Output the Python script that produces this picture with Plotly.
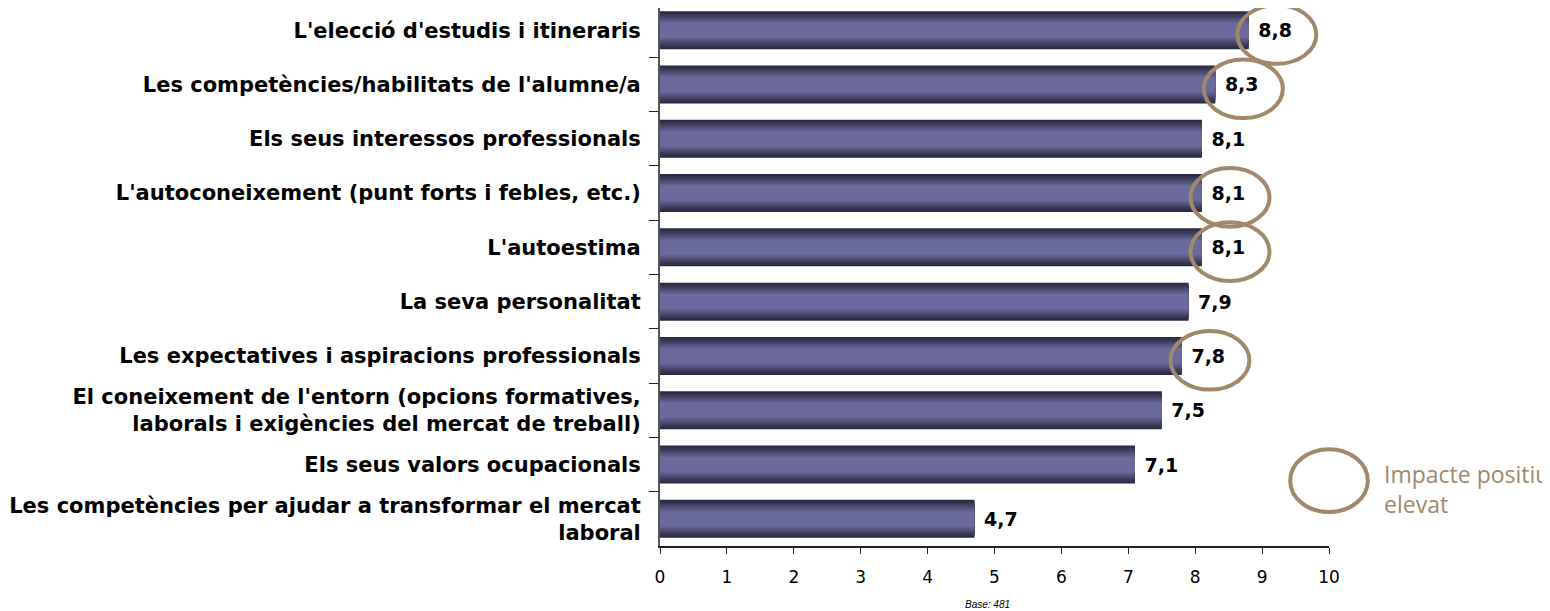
import plotly.graph_objects as go

categories = [
    "L'elecció d'estudis i itineraris",
    "Les competències/habilitats de l'alumne/a",
    "Els seus interessos professionals",
    "L'autoconeixement (punt forts i febles, etc.)",
    "L'autoestima",
    "La seva personalitat",
    "Les expectatives i aspiracions professionals",
    "El coneixement de l'entorn (opcions formatives,<br>laborals i exigències del mercat de treball)",
    "Els seus valors ocupacionals",
    "Les competències per ajudar a transformar el mercat<br>laboral",
]
values = [8.8, 8.3, 8.1, 8.1, 8.1, 7.9, 7.8, 7.5, 7.1, 4.7]
high_impact = [True, True, False, True, True, False, True, False, False, False]
x_ticks = list(range(0, 11))
legend_text = "Impacte positiu<br>elevat"
base_text = "Base: 481"

circle_color = "#a0896a"

# gradient layers (outer dark -> inner light)
dark = (42, 41, 66)
light = (106, 106, 156)
n_layers = 9
fig = go.Figure()
for i in range(n_layers):
    t = i / (n_layers - 1)
    c = tuple(round(dark[k] + (light[k] - dark[k]) * (t ** 1.1)) for k in range(3))
    w = 0.70 - i * 0.052
    last = i == 0
    fig.add_trace(go.Bar(
        y=categories, x=values, orientation="h", width=w,
        marker=dict(color="rgb(%d,%d,%d)" % c, line=dict(width=0)),
        texttemplate="\u00a0%{x:.1f}" if last else None,
        textposition="outside" if last else "none",
        textfont=dict(family="DejaVu Sans", size=19, color="black", weight="bold"),
        cliponaxis=False, hoverinfo="skip", showlegend=False,
    ))

shapes = []
for idx, (v, h) in enumerate(zip(values, high_impact)):
    if h:
        cx = v + 0.42
        cy = idx + 0.08
        shapes.append(dict(type="circle", xref="x", yref="y",
                           x0=cx - 0.59, x1=cx + 0.59, y0=cy - 0.54, y1=cy + 0.54,
                           line=dict(color=circle_color, width=4), layer="above"))
# legend ellipse
shapes.append(dict(type="circle", xref="paper", yref="paper",
                   x0=0.942, x1=1.058, y0=0.063, y1=0.180,
                   line=dict(color=circle_color, width=4)))

annotations = [
    dict(text=legend_text, xref="paper", yref="paper", x=1.079, y=0.106,
         xanchor="left", yanchor="middle", align="left", showarrow=False,
         font=dict(family="Open Sans", size=23, color=circle_color)),
    dict(text="<i>" + base_text + "</i>", xref="paper", yref="paper", x=0.489, y=-0.108,
         xanchor="center", yanchor="middle", showarrow=False,
         font=dict(family="Liberation Sans Narrow, Liberation Sans", size=10, color="black")),
]

n = len(categories)
fig.update_layout(
    width=1542, height=603,
    margin=dict(l=652, r=221, t=0, b=65, autoexpand=False),
    barmode="overlay",
    separators=",.",
    plot_bgcolor="white", paper_bgcolor="white",
    shapes=shapes, annotations=annotations,
    xaxis=dict(range=[0, 10], tickvals=x_ticks, showgrid=False, zeroline=False,
               automargin=False,
               showline=True, linecolor="#222", linewidth=1.5,
               ticks="outside", ticklen=6, tickcolor="#222", ticklabelstandoff=9,
               tickfont=dict(family="DejaVu Sans", size=17, color="black")),
    yaxis=dict(range=[n - 0.5, -0.408], showgrid=False, zeroline=False,
               automargin=False,
               showline=True, linecolor="#555", linewidth=2,
               ticks="outside", ticklen=9, tickcolor="#222", tickson="boundaries",
               ticklabelstandoff=13,
               tickfont=dict(family="DejaVu Sans", size=21, color="black", weight="bold")),
)

fig.write_html("out.html")
